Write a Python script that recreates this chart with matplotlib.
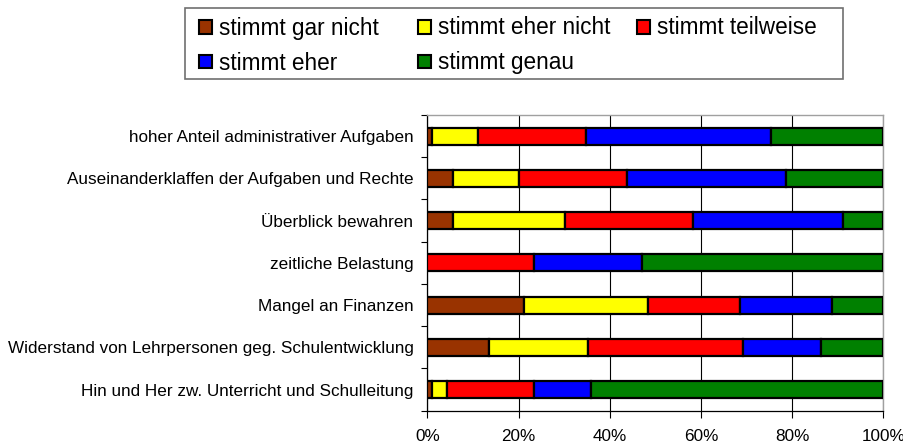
import matplotlib.pyplot as plt
import numpy as np
from matplotlib.patches import Rectangle

plt.rcParams['font.family'] = ['Liberation Sans', 'DejaVu Sans']

categories = [
    'hoher Anteil administrativer Aufgaben',
    'Auseinanderklaffen der Aufgaben und Rechte',
    'Überblick bewahren',
    'zeitliche Belastung',
    'Mangel an Finanzen',
    'Widerstand von Lehrpersonen geg. Schulentwicklung',
    'Hin und Her zw. Unterricht und Schulleitung',
]
series_names = ['stimmt gar nicht', 'stimmt eher nicht', 'stimmt teilweise',
                'stimmt eher', 'stimmt genau']
colors = ['#993300', '#FFFF00', '#FF0000', '#0000FF', '#008000']

# percent per category, top to bottom
gar_nicht = [1.0, 5.6, 5.6, 0.0, 21.3, 13.5, 1.0]
eher_nicht = [10.1, 14.6, 24.6, 0.0, 27.0, 21.7, 3.4]
teilweise = [23.7, 23.5, 28.1, 23.5, 20.3, 34.1, 19.1]
eher = [40.5, 35.0, 32.8, 23.6, 20.2, 17.0, 12.5]
genau = [24.7, 21.3, 8.9, 52.9, 11.2, 13.7, 64.0]
series = [gar_nicht, eher_nicht, teilweise, eher, genau]

W, H = 904, 444
fig = plt.figure(figsize=(W / 100, H / 100), dpi=100)
ax = fig.add_axes([427.3 / W, 1 - 410.7 / H, 456 / W, 295.7 / H])

y = np.arange(len(categories))
left = np.zeros(len(categories))
for vals, c in zip(series, colors):
    vals = np.array(vals)
    m = vals > 0
    ax.barh(y[m], vals[m], left=left[m], height=0.4, color=c,
            edgecolor='black', linewidth=1.6, zorder=3)
    left += vals

ax.set_xlim(0, 100)
ax.set_ylim(len(categories) - 0.5, -0.5)
ax.set_xticks(np.arange(0, 101, 20))
ax.set_xticklabels([f'{v}%' for v in range(0, 101, 20)], fontsize=12.3)
ax.set_yticks(y)
ax.set_yticklabels(categories, fontsize=12.3)
ax.set_yticks(np.arange(-0.5, len(categories), 1), minor=True)
ax.tick_params(axis='y', which='major', length=0, pad=10)
ax.tick_params(axis='y', which='minor', length=4, width=0.8, direction='out')
ax.tick_params(axis='x', length=5, width=0.8, direction='out', pad=8)
ax.xaxis.grid(True, color='black', linewidth=0.8, zorder=0)
ax.set_axisbelow(True)
for s in ['left', 'bottom']:
    ax.spines[s].set_color('black')
    ax.spines[s].set_linewidth(0.9)
for s in ['top', 'right']:
    ax.spines[s].set_color('#a0a0a0')
    ax.spines[s].set_linewidth(1.0)

# legend box in pixel coords
def px(x, yy):
    return x / W, 1 - yy / H

fig.patches.append(Rectangle(px(185, 79), (843 - 185) / W, (79 - 8) / H,
                             transform=fig.transFigure, facecolor='white',
                             edgecolor='#707070', linewidth=1.2))
col_x = [199, 418, 637]
row_y = [27, 62]
msz = 13
for i, (name, c) in enumerate(zip(series_names, colors)):
    x0 = col_x[i % 3]
    yc = row_y[i // 3]
    fig.patches.append(Rectangle(px(x0, yc + msz / 2), msz / W, msz / H,
                                 transform=fig.transFigure, facecolor=c,
                                 edgecolor='black', linewidth=1.5))
    fig.text(*px(x0 + 20, yc + 1), name, fontsize=16.3, va='center', ha='left')

fig.savefig('out.png', dpi=100)
